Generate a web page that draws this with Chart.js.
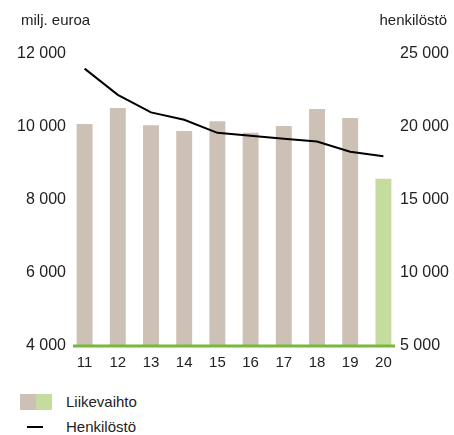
<!DOCTYPE html>
<html>
<head>
<meta charset="utf-8">
<script src="https://cdn.jsdelivr.net/npm/chart.js@4"></script>
<style>
  body { margin: 0; background: #fff; font-family: "Liberation Sans", Arial, sans-serif; color: #222; }
  #wrap { position: relative; width: 454px; height: 435px; }
  #chart-box { position: absolute; left: 0; top: 0; width: 454px; height: 376px; }
  .axis-title { position: absolute; top: 11px; font-size: 15px; }
  .legend { position: absolute; left: 20px; font-size: 15px; display: flex; align-items: center; }
  .sw { display: inline-block; width: 16px; height: 16px; }
  .ln { display: inline-block; width: 16px; height: 2px; background: #000; margin: 0 7px 0 7px; }
</style>
</head>
<body>
<div id="wrap">
  <div id="chart-box"><canvas id="grafik"></canvas></div>
  <div class="axis-title" style="left:21px">milj. euroa</div>
  <div class="axis-title" style="right:7px">henkilöstö</div>
  <div class="legend" style="top:393px">
    <span class="sw" style="background:#cdc1b5"></span><span class="sw" style="background:#c4dd9f"></span>
    <span style="margin-left:14px">Liikevaihto</span>
  </div>
  <div class="legend" style="top:418px">
    <span class="ln"></span>
    <span style="margin-left:16px">Henkilöstö</span>
  </div>
</div>
<script>
// Data
const vuodet = ['11', '12', '13', '14', '15', '16', '17', '18', '19', '20'];
const liikevaihto = [10080, 10520, 10050, 9890, 10160, 9840, 10030, 10490, 10250, 8580];
const henkilosto = [24000, 22200, 21000, 20500, 19600, 19400, 19200, 19000, 18300, 18000];
const vasenTicks = [4000, 6000, 8000, 10000, 12000];
const oikeaTicks = [5000, 10000, 15000, 20000, 25000];

const barColors = vuodet.map((v, i) => i === vuodet.length - 1 ? '#c4dd9f' : '#cdc1b5');
const fmt = v => v.toLocaleString('fi-FI').replace(/\s/g, ' ');

// Vihreä perusviiva
const baseLine = {
  id: 'baseLine',
  afterDatasetsDraw(chart) {
    const { ctx, chartArea, scales } = chart;
    const y = scales.y.getPixelForValue(4000);
    ctx.save();
    ctx.strokeStyle = '#78b83c';
    ctx.lineWidth = 3;
    ctx.beginPath();
    ctx.moveTo(chartArea.left + 5, y);
    ctx.lineTo(chartArea.right - 5, y);
    ctx.stroke();
    ctx.restore();
  }
};

new Chart(document.getElementById('grafik'), {
  data: {
    labels: vuodet,
    datasets: [
      {
        type: 'line',
        label: 'Henkilöstö',
        data: henkilosto,
        yAxisID: 'y1',
        borderColor: '#000',
        borderWidth: 2,
        pointRadius: 0,
        tension: 0,
        order: 0
      },
      {
        type: 'bar',
        label: 'Liikevaihto',
        data: liikevaihto,
        yAxisID: 'y',
        backgroundColor: barColors,
        categoryPercentage: 1,
        barPercentage: 0.48,
        order: 1
      }
    ]
  },
  options: {
    responsive: true,
    maintainAspectRatio: false,
    animation: false,
    layout: { padding: { top: 54, left: 0, right: 0, bottom: 0 } },
    plugins: {
      legend: { display: false },
      tooltip: { enabled: false }
    },
    scales: {
      x: {
        grid: { display: false, drawTicks: false },
        border: { display: false },
        ticks: {
          color: '#222',
          font: { family: 'Liberation Sans', size: 15 },
          padding: 8,
          maxRotation: 0
        },
        afterFit(scale) { scale.height = 30; }
      },
      y: {
        position: 'left',
        min: 4000,
        max: 12000,
        grid: { display: false, drawTicks: false },
        border: { display: false },
        afterBuildTicks(scale) { scale.ticks = vasenTicks.map(v => ({ value: v })); },
        ticks: {
          color: '#222',
          font: { family: 'Liberation Sans', size: 16 },
          padding: 2,
          callback: v => fmt(v)
        },
        afterFit(scale) { scale.width = 68; }
      },
      y1: {
        position: 'right',
        min: 5000,
        max: 25000,
        grid: { display: false, drawTicks: false },
        border: { display: false },
        afterBuildTicks(scale) { scale.ticks = oikeaTicks.map(v => ({ value: v })); },
        ticks: {
          color: '#222',
          font: { family: 'Liberation Sans', size: 16 },
          padding: 0,
          callback: v => fmt(v)
        },
        afterFit(scale) { scale.width = 54; }
      }
    }
  },
  plugins: [baseLine]
});
</script>
</body>
</html>
